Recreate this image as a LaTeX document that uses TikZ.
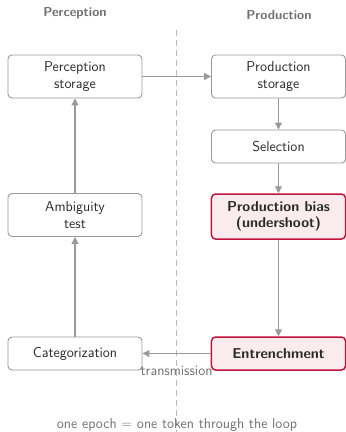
\documentclass[tikz,border=0pt]{standalone}
\usetikzlibrary{arrows.meta}
\definecolor{edgegray}{HTML}{9A9A9A}
\definecolor{txtgray}{HTML}{2A2A2A}
\definecolor{hdrgray}{HTML}{707070}
\definecolor{biasred}{HTML}{C0143C}
\definecolor{biasfill}{HTML}{FAEBEE}
\begin{document}
\begin{tikzpicture}[x=1bp,y=-1bp,
  box/.style={draw=edgegray, line width=0.9bp, rounded corners=4bp, minimum width=134bp, align=center, font=\sffamily\fontsize{14.4}{16.5}\selectfont, text=txtgray, fill=white},
  hot/.style={box, draw=biasred, line width=1.5bp, fill=biasfill, font=\sffamily\fontsize{14.4}{16.5}\selectfont\bfseries},
  flow/.style={-{Triangle[length=7bp,width=7bp]}, draw=edgegray, line width=1.1bp},
  hdr/.style={font=\sffamily\fontsize{13}{15}\selectfont\bfseries, text=hdrgray},
  note/.style={font=\sffamily\fontsize{14.4}{16}\selectfont, text=hdrgray}]
\useasboundingbox (0,0) rectangle (346,432);
\draw[edgegray!70, line width=1bp, dash pattern=on 6bp off 4bp] (176,30) coordinate (dtop) -- (176,432) coordinate (dbot);
\node[hdr] (hp) at (75,13) {Perception};
\node[hdr] (hq) at (279,15) {Production};
\node[box, minimum height=43bp] (ps) at (75,76.5) {Perception\\storage};
\node[box, minimum height=43bp] (qs) at (278.5,76.5) {Production\\storage};
\node[box, minimum height=33bp] (sel) at (278.5,146.5) {Selection};
\node[hot, minimum height=45bp] (bias) at (278.5,216.5) {Production bias\\(undershoot)};
\node[hot, minimum height=33bp] (ent) at (278.5,353.5) {Entrenchment};
\node[box, minimum height=33bp] (cat) at (75,353.5) {Categorization};
\node[box, minimum height=43bp] (amb) at (75,215) {Ambiguity\\test};
\draw[flow] (ps) -- (qs);
\draw[flow] (qs) -- (sel);
\draw[flow] (sel) -- (bias);
\draw[flow] (bias) -- (ent);
\draw[flow] (ent) -- node[note, below=9bp] (tr) {transmission} (cat);
\draw[flow] (cat) -- (amb);
\draw[flow] (amb) -- (ps);
\node[note] (foot) at (177,425) {one epoch $=$ one token through the loop};
\end{tikzpicture}
\end{document}
